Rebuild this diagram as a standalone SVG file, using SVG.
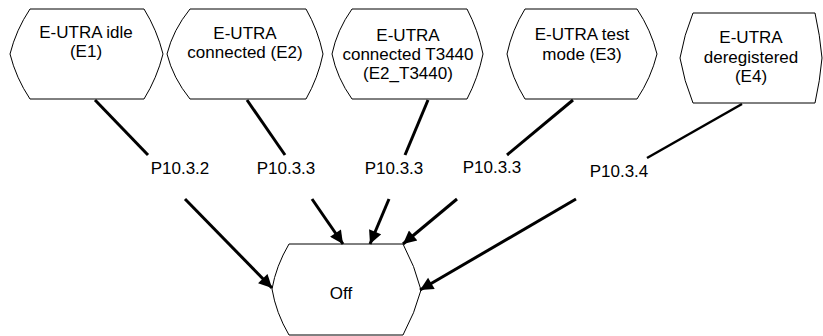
<svg xmlns="http://www.w3.org/2000/svg" width="823" height="336" viewBox="0 0 823 336">
<style>
.node{fill:#fff;stroke:#000;stroke-width:1}
.t{font-family:"Liberation Sans",Arial,sans-serif;font-size:17px;fill:#000;text-anchor:middle}
.c{stroke:#000;stroke-width:3;fill:none}
</style>
<defs>
<marker id="ah" viewBox="0 0 10 10" refX="10" refY="5" markerWidth="5" markerHeight="4.4" orient="auto" markerUnits="strokeWidth">
<path d="M0,0 L10,5 L0,10 z" fill="#000"/>
</marker>
</defs>
<rect width="823" height="336" fill="#fff"/>
<g id="E1">
<path class="node" d="M30,9 L144,9 Q157,30 163,54 Q157,78 144,99 L30,99 Q16,78 10,54 Q16,30 30,9 z"/>
<text class="t" x="86" y="38">E-UTRA idle</text>
<text class="t" x="86" y="57">(E1)</text>
</g>
<g id="E2">
<path class="node" d="M190,9 L306,9 Q318,30 323,54 Q318,78 306,99 L190,99 Q173,78 167,54 Q173,30 190,9 z"/>
<text class="t" x="245" y="39">E-UTRA</text>
<text class="t" x="245" y="58">connected (E2)</text>
</g>
<g id="E2_T3440">
<path class="node" d="M352,9 L467,9 Q478,30 483,54 Q478,78 467,99 L352,99 Q337,78 332,54 Q337,30 352,9 z"/>
<text class="t" x="408" y="41">E-UTRA</text>
<text class="t" x="408" y="60">connected T3440</text>
<text class="t" x="408" y="79">(E2_T3440)</text>
</g>
<g id="E3">
<path class="node" d="M525,9 L637,9 Q651,30 657,54 Q651,78 637,99 L525,99 Q512,78 507,54 Q512,30 525,9 z"/>
<text class="t" x="582" y="40">E-UTRA test</text>
<text class="t" x="582" y="60">mode (E3)</text>
</g>
<g id="E4">
<path class="node" d="M693,13 L815,13 Q820,35 822,58 Q820,81 815,103 L693,103 Q684,81 680,58 Q684,35 693,13 z"/>
<text class="t" x="751" y="43">E-UTRA</text>
<text class="t" x="751" y="63">deregistered</text>
<text class="t" x="751" y="82">(E4)</text>
</g>
<g id="Off">
<path class="node" d="M289,244 L403,244 Q415,266 421,290 Q415,313 403,335 L289,335 Q276,313 272,289 Q276,266 289,244 z"/>
<text class="t" x="341" y="299">Off</text>
</g>
<g id="connectors">
<line class="c" x1="95" y1="100" x2="148" y2="155"/>
<line class="c" x1="185" y1="199" x2="272" y2="288" marker-end="url(#ah)"/>
<line class="c" x1="247" y1="100" x2="285" y2="155"/>
<line class="c" x1="312" y1="199" x2="343" y2="244" marker-end="url(#ah)"/>
<line class="c" x1="428" y1="100" x2="405" y2="155"/>
<line class="c" x1="389" y1="199" x2="370" y2="244" marker-end="url(#ah)"/>
<line class="c" x1="573" y1="100" x2="507" y2="155"/>
<line class="c" x1="457" y1="199" x2="403" y2="244" marker-end="url(#ah)"/>
<line class="c" x1="742" y1="104" x2="647" y2="158" style="stroke-width:2.5"/>
<line class="c" x1="576" y1="199" x2="420" y2="290" marker-end="url(#ah)"/>
<text class="t" x="180" y="174">P10.3.2</text>
<text class="t" x="286" y="174">P10.3.3</text>
<text class="t" x="394" y="174">P10.3.3</text>
<text class="t" x="492" y="173">P10.3.3</text>
<text class="t" x="619" y="177">P10.3.4</text>
</g>
</svg>
